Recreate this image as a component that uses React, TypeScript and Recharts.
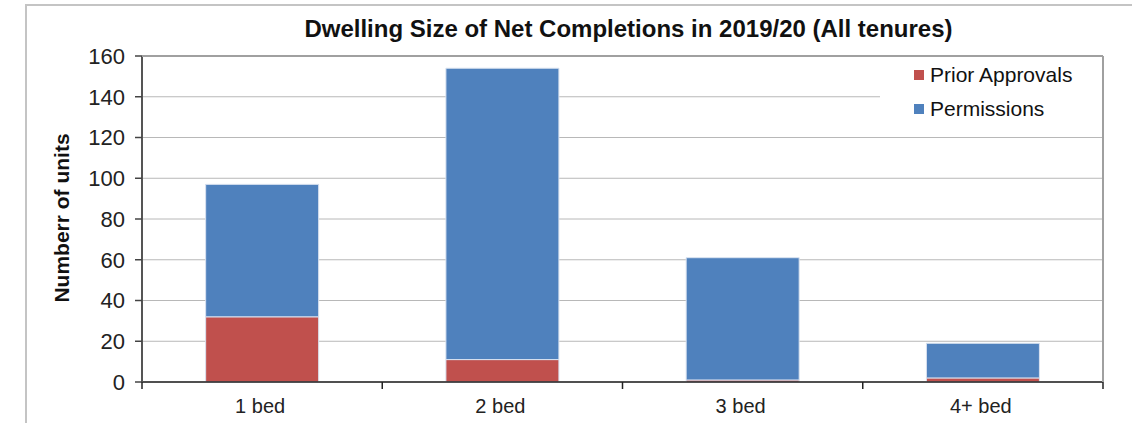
import React from 'react';
import { BarChart, Bar, XAxis, YAxis, CartesianGrid } from 'recharts';

const categories = ['1 bed', '2 bed', '3 bed', '4+ bed'];
const priorApprovals = [32, 11, 1, 2];
const permissions = [65, 143, 60, 17];
const yTicks = [0, 20, 40, 60, 80, 100, 120, 140, 160];

const RED = '#C0504D';
const BLUE = '#4F81BD';
const FONT = '"Liberation Sans", Arial, sans-serif';

const data = categories.map((name, i) => ({
  name,
  prior: priorApprovals[i],
  perm: permissions[i],
}));

const legendItems = [
  { color: RED, label: 'Prior Approvals' },
  { color: BLUE, label: 'Permissions' },
];

const TICK_SIZE = 7;
const TICK_MARGIN = 9;

// category labels centred, tick marks on the category boundaries (Excel style)
const CategoryTick = (props: any) => {
  const { x, y, payload, index } = props;
  const half = payload.offset || 0;
  const top = y - TICK_SIZE - TICK_MARGIN;
  return (
    <g>
      <line x1={x - half} x2={x - half} y1={top} y2={top + TICK_SIZE} stroke="#222" strokeWidth={1.5} />
      {index === categories.length - 1 && (
        <line x1={x + half} x2={x + half} y1={top} y2={top + TICK_SIZE} stroke="#222" strokeWidth={1.5} />
      )}
      <text x={x - 2} y={y} dy={15} textAnchor="middle" fontSize={20} fill="#222" fontFamily={FONT}>
        {payload.value}
      </text>
    </g>
  );
};

export default function App() {
  return (
    <div style={{ position: 'absolute', left: 0, top: 0, width: 1132, height: 423, background: '#fff', overflow: 'hidden' }}>
      <div style={{ position: 'absolute', left: 25, top: 4, width: 1120, height: 440, border: '2px solid #c4c4c4' }} />
      <div style={{ position: 'absolute', left: 148, width: 961, top: 15, textAlign: 'center', fontFamily: FONT, fontWeight: 700, fontSize: 24, color: '#111' }}>
        Dwelling Size of Net Completions in 2019/20 (All tenures)
      </div>
      <div style={{ position: 'absolute', left: 62, top: 218, transform: 'translate(-50%, -50%) rotate(-90deg)', whiteSpace: 'nowrap', fontFamily: FONT, fontWeight: 700, fontSize: 21, color: '#111' }}>
        Numberr of units
      </div>
      <div style={{ position: 'absolute', left: 0, top: 0 }}>
        <BarChart width={1132} height={423} data={data} margin={{ top: 56, right: 28, bottom: 0, left: 0 }} barCategoryGap="26.5%">
          <CartesianGrid vertical={false} stroke="#b8b8b8" />
          <XAxis
            dataKey="name"
            tickLine={false}
            tickSize={TICK_SIZE}
            tickMargin={TICK_MARGIN}
            tick={<CategoryTick />}
            axisLine={{ stroke: '#222', strokeWidth: 1.5 }}
            height={41}
            interval={0}
          />
          <YAxis
            width={142}
            domain={[0, 160]}
            ticks={yTicks}
            tickSize={7}
            tickMargin={10}
            tickLine={{ stroke: '#444', strokeWidth: 1.5 }}
            axisLine={{ stroke: '#555', strokeWidth: 2 }}
            tick={{ fontSize: 22, fill: '#222', fontFamily: FONT }}
            interval={0}
          />
          <YAxis yAxisId="r" orientation="right" width={1} tick={false} tickLine={false} axisLine={{ stroke: '#a0a0a0', strokeWidth: 2 }} />
          <Bar dataKey="prior" name="Prior Approvals" stackId="a" fill={RED} stroke="#d9e2f0" strokeWidth={1} isAnimationActive={false} />
          <Bar dataKey="perm" name="Permissions" stackId="a" fill={BLUE} stroke="#d9e2f0" strokeWidth={1} isAnimationActive={false} />
        </BarChart>
      </div>
      <div style={{ position: 'absolute', left: 142, top: 55, width: 961, height: 2, background: '#a0a0a0' }} />
      <div style={{ position: 'absolute', left: 880, top: 58, width: 222, height: 70, background: '#fff', fontFamily: FONT, fontSize: 21, color: '#111' }}>
        {legendItems.map((e, i) => (
          <div key={i} style={{ position: 'absolute', left: 34, top: 5 + i * 34, display: 'flex', alignItems: 'center' }}>
            <span style={{ width: 10, height: 10, background: e.color, display: 'inline-block', marginRight: 6 }} />
            <span>{e.label}</span>
          </div>
        ))}
      </div>
    </div>
  );
}
